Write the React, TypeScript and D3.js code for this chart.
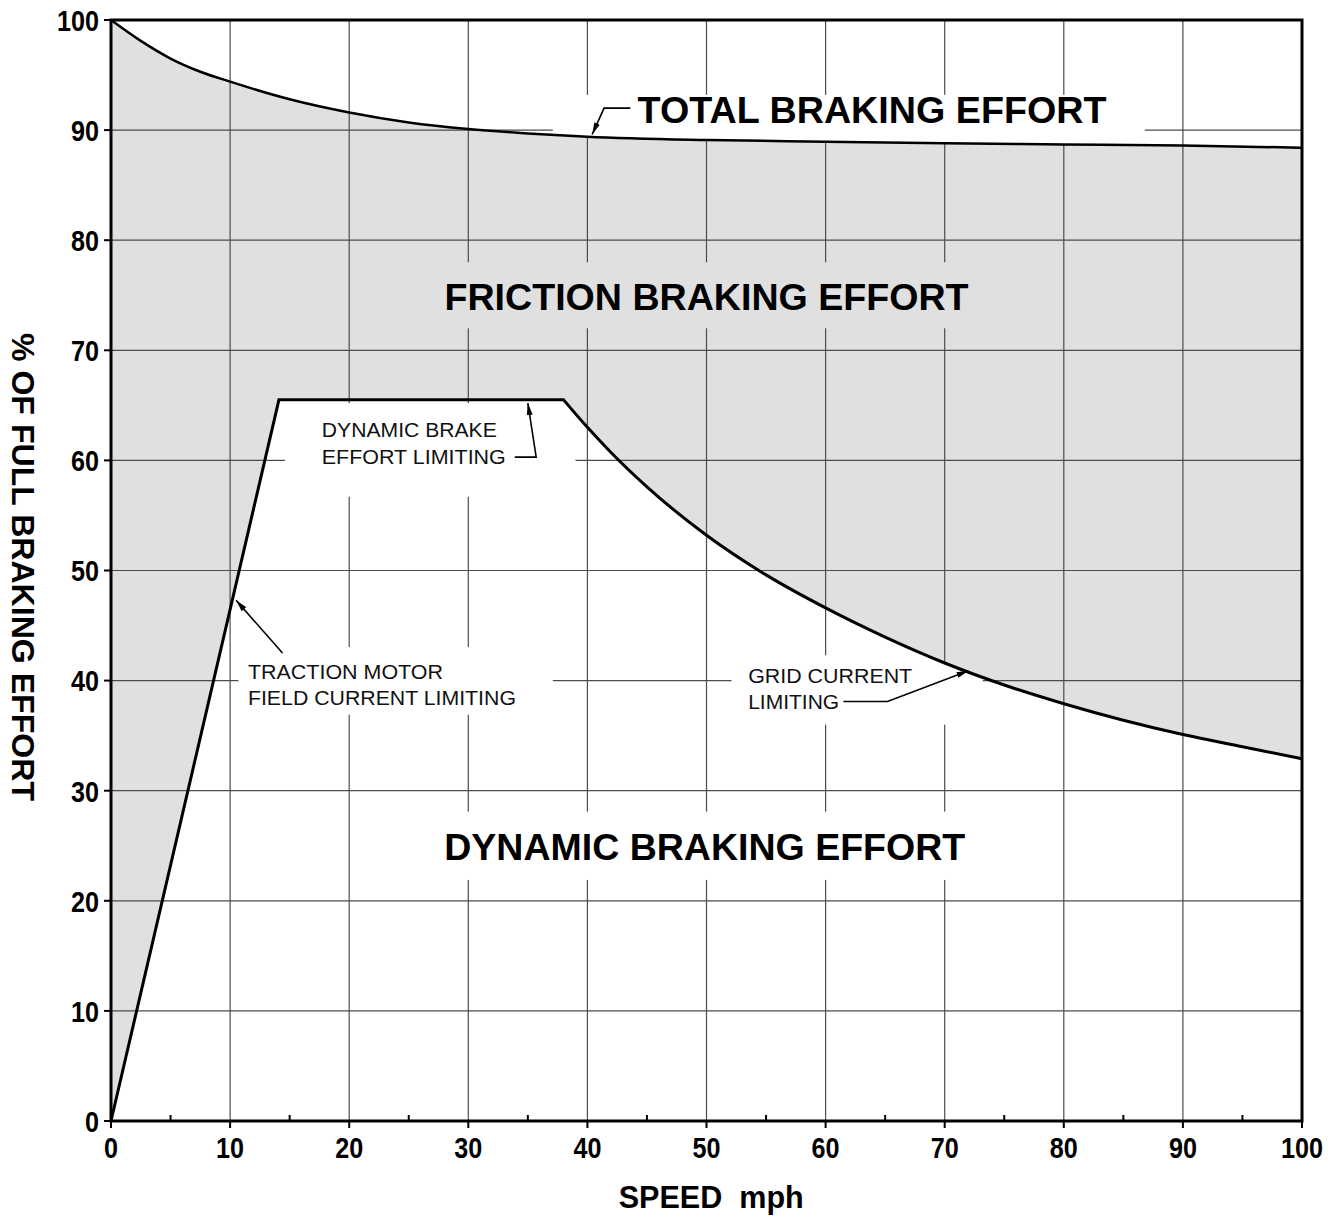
import React from 'react';
import * as d3 from 'd3';

// total braking effort (% of full) against speed (mph)
const totalSpeed = [0, 2.5, 5, 7.5, 10, 15, 20, 25, 30, 35, 40, 50, 60, 70, 80, 90, 100];
const totalEffort = [100, 98.1, 96.5, 95.3, 94.4, 92.8, 91.6, 90.7, 90.1, 89.7, 89.4, 89.1, 88.95, 88.8, 88.7, 88.6, 88.4];

// dynamic braking effort: linear ramp, flat limit, then grid current limiting
const dynSpeed = [0, 14.1, 38, 40, 42, 45, 50, 55, 60, 65, 70, 75, 80, 85, 90, 95, 100];
const dynEffort = [0, 65.5, 65.5, 63.0, 60.7, 57.6, 53.2, 49.6, 46.6, 43.95, 41.6, 39.6, 37.9, 36.4, 35.1, 34.0, 32.9];

const xTicks = [0, 10, 20, 30, 40, 50, 60, 70, 80, 90, 100];
const xMinor = [5, 15, 25, 35, 45, 55, 65, 75, 85, 95];
const yTicks = [0, 10, 20, 30, 40, 50, 60, 70, 80, 90, 100];

const xTitle = 'SPEED  mph';
const yTitle = '% OF FULL BRAKING EFFORT';

const W = 1338;
const H = 1222;
const FONT = '"Liberation Sans", Arial, Helvetica, sans-serif';

const x = d3.scaleLinear().domain([0, 100]).range([111, 1302]);
const y = d3.scaleLinear().domain([0, 100]).range([1121, 20]);

// big region labels (centre x, baseline y in data units; width in px)
const bigLabels = [
  { text: 'TOTAL BRAKING EFFORT', cx: 63.9, by: 90.65, w: 469 },
  { text: 'FRICTION BRAKING EFFORT', cx: 50.0, by: 73.66, w: 524 },
  { text: 'DYNAMIC BRAKING EFFORT', cx: 49.85, by: 23.7, w: 521 },
];

// small annotations (start x, baseline y in data units)
const smallLabels = [
  { text: 'DYNAMIC BRAKE', sx: 17.7, by: 62.1, w: 175 },
  { text: 'EFFORT LIMITING', sx: 17.7, by: 59.65, w: 184 },
  { text: 'TRACTION MOTOR', sx: 11.5, by: 40.1, w: 195 },
  { text: 'FIELD CURRENT LIMITING', sx: 11.5, by: 37.75, w: 268 },
  { text: 'GRID CURRENT', sx: 53.5, by: 39.8, w: 164 },
  { text: 'LIMITING', sx: 53.5, by: 37.45, w: 91 },
];

// leader lines, ending in an arrow
const leaders = [
  [[43.6, 92.0], [41.4, 92.0], [40.4, 89.6]],
  [[33.9, 60.3], [35.7, 60.3], [35.0, 65.2]],
  [[14.4, 42.5], [10.5, 47.3]],
  [[61.5, 38.1], [65.2, 38.1], [72.0, 40.9]],
];

// patches that hide the grid behind the labels
const gaps = [
  { x0: 37.1, x1: 86.8, y0: 85, y1: 93.2, fill: '#fff', clip: 'above' },
  { x0: 26.8, x1: 73.4, y0: 72.0, y1: 78.0, fill: '#e0e0e0', clip: '' },
  { x0: 26.8, x1: 73.4, y0: 21.9, y1: 28.1, fill: '#fff', clip: 'below' },
  { x0: 14.6, x1: 39.0, y0: 56.7, y1: 65.2, fill: '#fff', clip: 'below' },
  { x0: 10.7, x1: 37.1, y0: 36.9, y1: 43.05, fill: '#fff', clip: 'below' },
  { x0: 52.1, x1: 73.2, y0: 36.0, y1: 42.3, fill: '#fff', clip: 'below' },
];

const App: React.FC = () => {
  const totalLine = d3.line<number>()
    .x((d, i) => x(totalSpeed[i]))
    .y(d => y(d))
    .curve(d3.curveMonotoneX)(totalEffort) as string;

  const totalArea = d3.area<number>()
    .x((d, i) => x(totalSpeed[i]))
    .y0(y(0))
    .y1(d => y(d))
    .curve(d3.curveMonotoneX)(totalEffort) as string;

  // straight ramp + flat top, then a smooth curve
  const head = dynSpeed.slice(0, 3).map((s, i) => `${x(s)},${y(dynEffort[i])}`);
  const tail = d3.line<number>()
    .x((d, i) => x(dynSpeed[i + 2]))
    .y(d => y(d))
    .curve(d3.curveMonotoneX)(dynEffort.slice(2)) as string;
  const dynLine = 'M' + head.join('L') + tail.replace(/^M/, 'L');
  const dynArea = dynLine + `L${x(100)},${y(0)}L${x(0)},${y(0)}Z`;
  const aboveTotal = totalLine + `L${x(100)},${y(100)}L${x(0)},${y(100)}Z`;

  return (
    <svg width={W} height={H} style={{ position: 'absolute', left: 0, top: 0, background: '#fff' }}>
      <defs>
        <clipPath id="below"><path d={dynArea} /></clipPath>
        <clipPath id="above"><path d={aboveTotal} /></clipPath>
        <marker id="arrow" viewBox="0 0 12 8" refX={12} refY={4} markerWidth={12} markerHeight={8}
          markerUnits="userSpaceOnUse" orient="auto">
          <path d="M0,1 L12,4 L0,7 Z" fill="#000" />
        </marker>
      </defs>

      {/* friction region */}
      <path d={totalArea} fill="#e0e0e0" />
      <path d={dynArea} fill="#fff" />

      {/* grid */}
      <g stroke="#4d4d4d" strokeWidth={1.2}>
        {xTicks.slice(1, -1).map(t => (
          <line key={'gx' + t} x1={x(t)} x2={x(t)} y1={y(0)} y2={y(100)} />
        ))}
        {yTicks.slice(1, -1).map(t => (
          <line key={'gy' + t} x1={x(0)} x2={x(100)} y1={y(t)} y2={y(t)} />
        ))}
      </g>

      {gaps.map((g, i) => (
        <rect key={'gap' + i} x={x(g.x0)} y={y(g.y1)} width={x(g.x1) - x(g.x0)} height={y(g.y0) - y(g.y1)}
          fill={g.fill} clipPath={g.clip ? `url(#${g.clip})` : undefined} />
      ))}

      {/* curves */}
      <path d={totalLine} fill="none" stroke="#000" strokeWidth={2.5} />
      <path d={dynLine} fill="none" stroke="#000" strokeWidth={3} strokeLinejoin="miter" />

      {/* frame and ticks */}
      <rect x={x(0)} y={y(100)} width={x(100) - x(0)} height={y(0) - y(100)} fill="none" stroke="#000" strokeWidth={3} />
      <g stroke="#000" strokeWidth={2}>
        {xTicks.map(t => <line key={'tx' + t} x1={x(t)} x2={x(t)} y1={y(0)} y2={y(0) + 7} />)}
        {xMinor.map(t => <line key={'mx' + t} x1={x(t)} x2={x(t)} y1={y(0)} y2={y(0) - 6} />)}
        {yTicks.map(t => <line key={'ty' + t} x1={x(0) - 7} x2={x(0)} y1={y(t)} y2={y(t)} />)}
      </g>

      <g fontFamily={FONT} fontWeight="bold" fontSize={30} fill="#000">
        {yTicks.map(t => (
          <text key={'ly' + t} x={x(0) - 12} y={y(t)} dy="0.36em" textAnchor="end"
            textLength={String(t).length * 14} lengthAdjust="spacingAndGlyphs">{t}</text>
        ))}
        {xTicks.map(t => (
          <text key={'lx' + t} x={x(t)} y={y(0) + 37} textAnchor="middle"
            textLength={String(t).length * 14} lengthAdjust="spacingAndGlyphs">{t}</text>
        ))}
        <text x={x(50.4)} y={1208} textAnchor="middle" fontSize={31} textLength={185}
          lengthAdjust="spacingAndGlyphs" style={{ whiteSpace: 'pre' }}>{xTitle}</text>
        <text transform="translate(12,567) rotate(90)" textAnchor="middle" fontSize={31} textLength={468}
          lengthAdjust="spacingAndGlyphs">{yTitle}</text>
      </g>

      {/* region labels */}
      <g fontFamily={FONT} fontWeight="bold" fontSize={36} fill="#000">
        {bigLabels.map(l => (
          <text key={l.text} x={x(l.cx)} y={y(l.by)} textAnchor="middle" textLength={l.w}
            lengthAdjust="spacingAndGlyphs">{l.text}</text>
        ))}
      </g>
      <g fontFamily={FONT} fontSize={20} fill="#111">
        {smallLabels.map(l => (
          <text key={l.text} x={x(l.sx)} y={y(l.by)} textLength={l.w} lengthAdjust="spacingAndGlyphs">{l.text}</text>
        ))}
      </g>

      {/* leaders */}
      <g fill="none" stroke="#000" strokeWidth={1.6}>
        {leaders.map((pts, i) => (
          <polyline key={'ld' + i} points={pts.map(p => `${x(p[0])},${y(p[1])}`).join(' ')} markerEnd="url(#arrow)" />
        ))}
      </g>
    </svg>
  );
};

export default App;
